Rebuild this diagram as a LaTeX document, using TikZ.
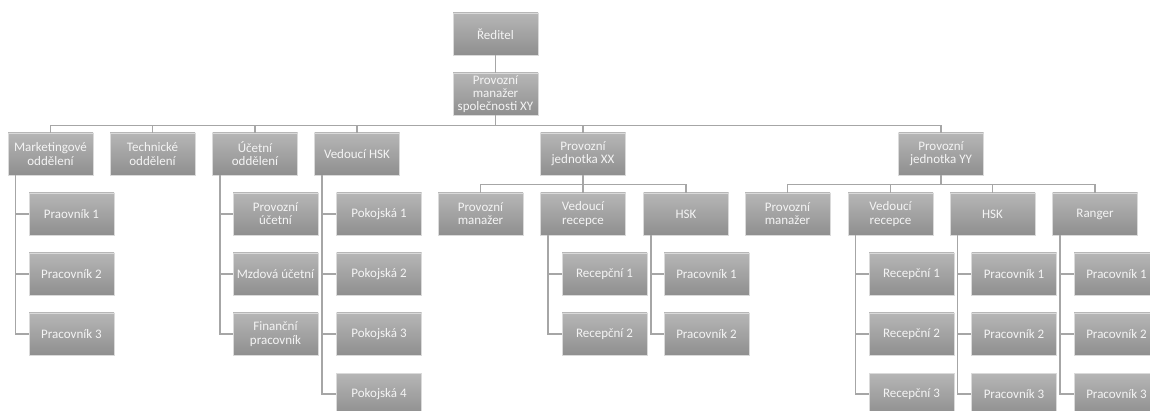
\documentclass[tikz,border=0pt]{standalone}
\usepackage{fontspec}
\setmainfont{Carlito}
\definecolor{boxtop}{HTML}{B6B6B6}
\definecolor{boxbot}{HTML}{8F8F8F}
\definecolor{boxline}{HTML}{DADADA}
\definecolor{conn}{HTML}{A6A6A6}
\definecolor{txt}{HTML}{F4F4F4}
\tikzset{
  orgbox/.style={rectangle, minimum width=85pt, minimum height=42pt, inner sep=0.5pt,
    top color=boxtop, bottom color=boxbot, draw=boxline, line width=0.7pt,
    text=txt, align=center, font=\fontsize{13}{13.2}\selectfont},
  link/.style={draw=conn, line width=1.6pt}
}
\begin{document}
\begin{tikzpicture}[x=1pt,y=-1pt]
\useasboundingbox (0,0) rectangle (1150,411);
\clip (0,0) rectangle (1150,411);
% top
\node[orgbox] (red) at (495.5,34) {Ředitel};
\node[orgbox] (pm) at (495.5,94) {Provozní\\manažer\\společnosti XY};
% level 2
\node[orgbox] (mkt) at (50.5,154) {Marketingové\\oddělení};
\node[orgbox] (tech) at (152.5,154) {Technické\\oddělení};
\node[orgbox] (uct) at (255,154) {Účetní\\oddělení};
\node[orgbox] (vhsk) at (357,154) {Vedoucí HSK};
\node[orgbox] (pjxx) at (583,154) {Provozní\\jednotka XX};
\node[orgbox] (pjyy) at (941,154) {Provozní\\jednotka YY};
% level 3
\node[orgbox] (pmx) at (480.5,214) {Provozní\\manažer};
\node[orgbox] (vrx) at (583,214) {Vedoucí\\recepce};
\node[orgbox] (hskx) at (686,214) {HSK};
\node[orgbox] (pmy) at (787.5,214) {Provozní\\manažer};
\node[orgbox] (vry) at (890.5,214) {Vedoucí\\recepce};
\node[orgbox] (hsky) at (992.5,214) {HSK};
\node[orgbox] (rng) at (1095,214) {Ranger};
% marketing children
\node[orgbox] (mk1) at (71.5,214) {Praovník 1};
\node[orgbox] (mk2) at (71.5,274) {Pracovník 2};
\node[orgbox] (mk3) at (71.5,334) {Pracovník 3};
% ucetni children
\node[orgbox] (uc1) at (275.5,214) {Provozní\\účetní};
\node[orgbox] (uc2) at (275.5,274) {Mzdová účetní};
\node[orgbox] (uc3) at (275.5,334) {Finanční\\pracovník};
% vedouci HSK children
\node[orgbox] (po1) at (379,214) {Pokojská 1};
\node[orgbox] (po2) at (379,274) {Pokojská 2};
\node[orgbox] (po3) at (379,334) {Pokojská 3};
\node[orgbox] (po4) at (379,394) {Pokojská 4};
% XX children
\node[orgbox] (rx1) at (604.5,274) {Recepční 1};
\node[orgbox] (rx2) at (604.5,334) {Recepční 2};
\node[orgbox] (hx1) at (706.5,274) {Pracovník 1};
\node[orgbox] (hx2) at (706.5,334) {Pracovník 2};
% YY children
\node[orgbox] (ry1) at (911.5,274) {Recepční 1};
\node[orgbox] (ry2) at (911.5,334) {Recepční 2};
\node[orgbox] (ry3) at (911.5,394) {Recepční 3};
\node[orgbox] (hy1) at (1014,274) {Pracovník 1};
\node[orgbox] (hy2) at (1014,334) {Pracovník 2};
\node[orgbox] (hy3) at (1014,394) {Pracovník 3};
\node[orgbox] (rg1) at (1116.5,274) {Pracovník 1};
\node[orgbox] (rg2) at (1116.5,334) {Pracovník 2};
\node[orgbox] (rg3) at (1116.5,394) {Pracovník 3};
% connectors
\draw[link] (red.south) -- (pm.north);
\foreach \c in {mkt,tech,uct,vhsk,pjxx,pjyy}
  \draw[link] (pm.south) -- ++(0,10) -| (\c.north);
\foreach \c in {pmx,vrx,hskx}
  \draw[link] (pjxx.south) -- ++(0,9) -| (\c.north);
\foreach \c in {pmy,vry,hsky,rng}
  \draw[link] (pjyy.south) -- ++(0,9) -| (\c.north);
\foreach \p/\c in {mkt/mk1,mkt/mk2,mkt/mk3,uct/uc1,uct/uc2,uct/uc3,
  vhsk/po1,vhsk/po2,vhsk/po3,vhsk/po4,vrx/rx1,vrx/rx2,hskx/hx1,hskx/hx2,
  vry/ry1,vry/ry2,vry/ry3,hsky/hy1,hsky/hy2,hsky/hy3,rng/rg1,rng/rg2,rng/rg3}
  \draw[link] ([xshift=8pt]\p.south west) |- (\c.west);
\end{tikzpicture}
\end{document}
